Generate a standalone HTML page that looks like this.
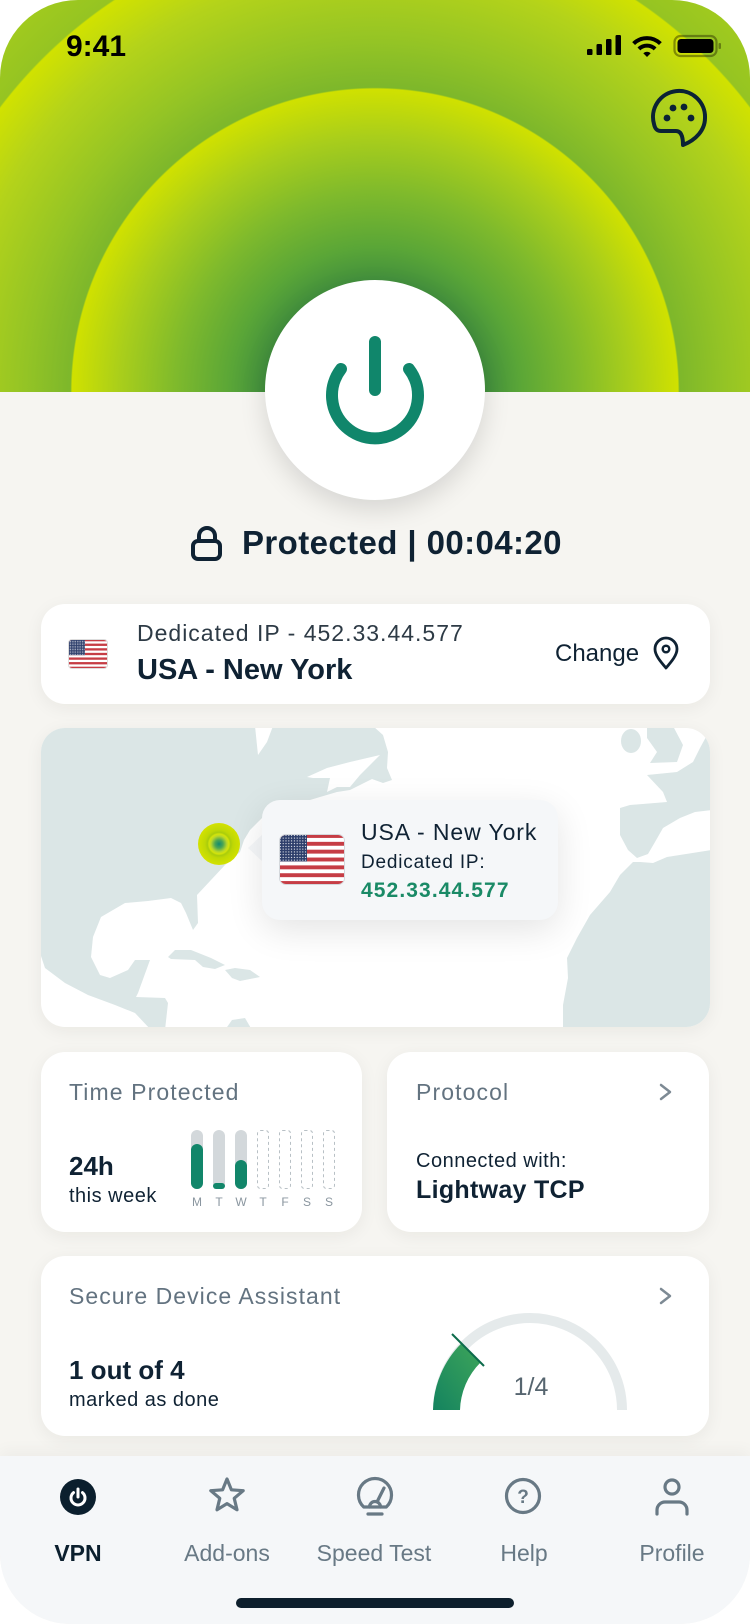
<!DOCTYPE html>
<html><head><meta charset="utf-8">
<style>
*{margin:0;padding:0;box-sizing:border-box}
html,body{width:750px;height:1624px;background:#fff;overflow:hidden}
#scr{position:absolute;left:0;top:0;width:750px;height:1624px;border-radius:78px 78px 70px 70px;overflow:hidden;background:#f6f5f1;font-family:"Liberation Sans",sans-serif;color:#0e2131}
.t{position:absolute;white-space:nowrap;line-height:1}
.card{position:absolute;background:#fff;border-radius:24px;box-shadow:0 4px 18px rgba(40,40,20,0.06)}
svg{position:absolute;overflow:visible}
.g{color:#637380}
.c{text-align:center;width:160px}
.d{position:absolute;width:20px;text-align:center;font-size:12px;line-height:1;color:#8a969f;top:1196px}
</style></head><body><div id="scr">

<div style="position:absolute;left:0;top:0;width:750px;height:392px;background:radial-gradient(circle at 375px 392px,#3d8c3f 0px,#43903d 112px,#5aa637 145px,#7fba2c 200px,#a9ce1b 255px,#d0e100 303px,#7db72b 304.5px,#94c425 350px,#b4d31a 420px,#d1e200 470px,#95c422 471.5px,#aacf1b 545px)"></div>

<!-- power circle -->
<div style="position:absolute;left:265px;top:280px;width:220px;height:220px;border-radius:50%;background:#fff;box-shadow:0 10px 26px rgba(0,0,0,0.13)"></div>

<!-- location card -->
<div class="card" style="left:41px;top:604px;width:669px;height:100px"></div>
<div style="position:absolute;left:68px;top:639px;width:40px;height:30px;border-radius:4px;overflow:hidden;border:1px solid #ddd">
<svg width="40" height="30" viewBox="0 0 66 50" preserveAspectRatio="none" style="left:-1px;top:-1px"><defs><pattern id="st1" width="2.8" height="2.7" patternUnits="userSpaceOnUse"><circle cx="1.4" cy="1.35" r="0.7" fill="#fff"/></pattern></defs><rect width="66" height="50" fill="#fff"/><g fill="#c63d45"><rect y="0" width="66" height="3.85"/><rect y="7.69" width="66" height="3.85"/><rect y="15.38" width="66" height="3.85"/><rect y="23.08" width="66" height="3.85"/><rect y="30.77" width="66" height="3.85"/><rect y="38.46" width="66" height="3.85"/><rect y="46.15" width="66" height="3.85"/></g><rect width="28" height="26.9" fill="#2d3e6b"/><rect width="28" height="26.9" fill="url(#st1)"/></svg></div>

<!-- map card -->
<div class="card" style="left:41px;top:728px;width:669px;height:299px;overflow:hidden">
<svg width="669" height="299" viewBox="41 728 669 299" style="left:0;top:0">
<g fill="#dbe6e6">
<polygon points="38,726 255,726 258,755 267,742 273,726 373,726 383,735 388,752 387,768 392,780 383,783 372,779 360,785 350,790 337,792 320,797 300,803 280,808 262,818 250,830 244,840 240,852 225,865 211,880 197,895 198,923 193,930 186,913 181,903 171,898 148,901 125,903 101,917 93,937 91,957 100,975 110,978 128,970 135,960 150,960 138,993 136,997 165,998 168,1003 165,1030 151,1030 135,1013 115,1005 88,995 65,983 45,968 38,947"/>
<polygon points="168,957 175,950 191,950 211,958 225,965 215,969 203,967 195,960 171,959"/>
<polygon points="225,970 235,968 250,970 260,977 250,979 240,981 232,978"/>
<polygon points="225,1030 232,1020 245,1018 252,1030"/>
<ellipse cx="631" cy="741" rx="10" ry="12"/>
<polygon points="647,726 673,726 683,745 677,762 650,763 657,752 647,738"/>
<polygon points="712,726 700,748 693,762 677,772 647,775 663,792 667,802 630,805 620,808 620,835 628,850 637,858 648,854 655,842 663,828 680,818 695,812 712,810"/>
<polygon points="712,850 667,857 653,863 640,862 633,862 620,875 610,892 590,915 577,938 567,958 568,978 563,1005 563,1030 712,1030"/>
</g>
<polygon points="307,777 327,768 350,762 380,755 360,775 350,787 337,787 327,792 330,778 313,778" fill="#fff"/>
</svg>
<div style="position:absolute;left:157px;top:95px;width:42px;height:42px;border-radius:50%;background:radial-gradient(circle,#128a70 0px,#4aa555 4px,#b9d72a 8px,#d4e40a 10px,#a9cc0c 11.5px,#bfd806 14px,#d3e200 21px)"></div>
</div>

<!-- popup -->
<svg width="20" height="30" style="left:246px;top:832px"><polygon points="2,16 17,2 17,30" fill="#f5f7f9"/></svg>
<div style="position:absolute;left:262px;top:800px;width:296px;height:120px;border-radius:18px;background:#f5f7f9;box-shadow:0 10px 36px rgba(0,0,0,0.11)"></div>
<div style="position:absolute;left:279px;top:834px;width:66px;height:51px;border-radius:7px;overflow:hidden;border:1.5px solid #d4d8dc">
<svg width="66" height="51" viewBox="0 0 66 50" preserveAspectRatio="none" style="left:-1.5px;top:-1.5px"><defs><pattern id="st2" width="2.8" height="2.7" patternUnits="userSpaceOnUse"><circle cx="1.4" cy="1.35" r="0.6" fill="#fff"/></pattern></defs><rect width="66" height="50" fill="#fff"/><g fill="#c63d45"><rect y="0" width="66" height="3.85"/><rect y="7.69" width="66" height="3.85"/><rect y="15.38" width="66" height="3.85"/><rect y="23.08" width="66" height="3.85"/><rect y="30.77" width="66" height="3.85"/><rect y="38.46" width="66" height="3.85"/><rect y="46.15" width="66" height="3.85"/></g><rect width="28" height="26.9" fill="#2d3e6b"/><rect width="28" height="26.9" fill="url(#st2)"/></svg></div>

<!-- stat cards -->
<div class="card" style="left:41px;top:1052px;width:321px;height:180px"></div>
<div class="card" style="left:387px;top:1052px;width:322px;height:180px"></div>
<div class="card" style="left:41px;top:1256px;width:668px;height:180px"></div>

<!-- nav -->
<div style="position:absolute;left:0;top:1456px;width:750px;height:168px;background:#f5f7f9;box-shadow:0 -6px 14px rgba(0,0,0,0.035)"></div>
<div style="position:absolute;left:236px;top:1598px;width:278px;height:10px;border-radius:5px;background:#0d1f2d"></div>

<!-- icon overlay -->
<svg width="750" height="1624" viewBox="0 0 750 1624" style="left:0;top:0">
<defs><linearGradient id="gg" x1="0" y1="1" x2="1" y2="0"><stop offset="0" stop-color="#14835f"/><stop offset="1" stop-color="#3ea55a"/></linearGradient></defs>
<!-- status bar -->
<g fill="#000"><rect x="587" y="49" width="5.5" height="6" rx="1.3"/><rect x="596.5" y="44" width="5.5" height="11" rx="1.3"/><rect x="606" y="39" width="5.5" height="16" rx="1.3"/><rect x="615.5" y="35" width="5.5" height="20" rx="1.3"/></g>
<g fill="none" stroke="#000" stroke-width="4"><path d="M633.6 43.6 A19 19 0 0 1 660.4 43.6"/><path d="M638.9 48.9 A11.5 11.5 0 0 1 655.1 48.9"/></g>
<path d="M647 57 L643.3 53.3 A5.2 5.2 0 0 1 650.7 53.3 Z" fill="#000"/>
<rect x="674.5" y="36" width="42" height="20" rx="6" fill="none" stroke="rgba(40,40,0,0.45)" stroke-width="2.2"/>
<rect x="677.5" y="39" width="36" height="14" rx="3.5" fill="#000"/>
<rect x="718.5" y="43" width="2.5" height="6" rx="1" fill="rgba(40,40,0,0.45)"/>
<!-- palette -->
<path d="M676 131 C681 131 683 136 683 145 C696 140 705 130 705 118 A26 26 0 1 0 654 124 C655 129 657 131 661 131 Z" fill="none" stroke="#0b2235" stroke-width="4" stroke-linejoin="round"/>
<g fill="#0b2235"><circle cx="667" cy="118" r="3.4"/><circle cx="673" cy="108" r="3.4"/><circle cx="684" cy="107" r="3.4"/><circle cx="691" cy="118" r="3.4"/></g>
<!-- power glyph -->
<g fill="none" stroke="#10866b" stroke-width="12" stroke-linecap="round"><line x1="375" y1="342" x2="375" y2="390"/><path d="M341 369 A43 43 0 1 0 409 369"/></g>
<!-- lock -->
<g fill="none" stroke="#0f2233" stroke-width="4"><rect x="193" y="541" width="27" height="18" rx="5"/><path d="M199 541 V536 A8 8 0 0 1 215 536 V541"/></g>
<!-- pin -->
<path d="M666 668 C660 661 655 655 655 649 A11 11 0 0 1 677 649 C677 655 672 661 666 668 Z" fill="none" stroke="#0f2233" stroke-width="2.8" stroke-linejoin="round"/>
<circle cx="666" cy="649" r="3.3" fill="none" stroke="#0f2233" stroke-width="2.5"/>
<!-- bars -->
<g fill="#d3d8db"><rect x="191" y="1130" width="12" height="59" rx="6"/><rect x="213" y="1130" width="12" height="59" rx="6"/><rect x="235" y="1130" width="12" height="59" rx="6"/></g>
<g fill="#12866a"><rect x="191" y="1144" width="12" height="45" rx="6"/><rect x="213" y="1183" width="12" height="6" rx="3"/><rect x="235" y="1160" width="12" height="29" rx="6"/></g>
<g fill="none" stroke="#b8c0c5" stroke-width="1" stroke-dasharray="3 3"><rect x="257.5" y="1130.5" width="11" height="58" rx="3"/><rect x="279.5" y="1130.5" width="11" height="58" rx="3"/><rect x="301.5" y="1130.5" width="11" height="58" rx="3"/><rect x="323.5" y="1130.5" width="11" height="58" rx="3"/></g>
<!-- chevrons -->
<g fill="none" stroke="#7d8a94" stroke-width="2.5" stroke-linecap="round" stroke-linejoin="round"><polyline points="661,1085 670,1092 661,1099"/><polyline points="661,1289 670,1296 661,1303"/></g>
<!-- gauge -->
<path d="M438 1410 A92 92 0 0 1 622 1410" fill="none" stroke="#e5eaeb" stroke-width="10"/>
<path d="M433 1410 A97 97 0 0 1 461.4 1343.4 L480.5 1362.5 A70 70 0 0 0 460 1410 Z" fill="url(#gg)"/>
<line x1="452" y1="1334" x2="484" y2="1366" stroke="#0d6b4c" stroke-width="2"/>
<!-- nav icons -->
<circle cx="78" cy="1497" r="18" fill="#0b1f2e"/>
<g fill="none" stroke="#fff" stroke-width="3" stroke-linecap="round"><line x1="78" y1="1489" x2="78" y2="1497"/><path d="M73.5 1492.6 A7 7 0 1 0 82.5 1492.6"/></g>
<g fill="none" stroke="#687985" stroke-width="3.2" stroke-linejoin="round" stroke-linecap="round">
<polygon points="227,1479 231.4,1489.8 243.2,1490.7 234.2,1498.3 237,1509.8 227,1503.6 217,1509.8 219.8,1498.3 210.8,1490.7 222.6,1489.8"/>
<path d="M363.7 1507 A16.5 16.5 0 1 1 386.3 1507 Z"/>
<path d="M369.5 1507 A5.5 5.5 0 0 1 380.5 1507"/>
<line x1="377" y1="1502" x2="384" y2="1488"/>
<line x1="368" y1="1514" x2="382" y2="1514"/>
<circle cx="523" cy="1496" r="16.5"/>
<circle cx="672" cy="1487" r="7"/>
<path d="M657 1514 V1510 A8 8 0 0 1 665 1502 H679 A8 8 0 0 1 687 1510 V1514"/>
</g>
<text x="523" y="1503" text-anchor="middle" font-family="Liberation Sans, sans-serif" font-weight="bold" font-size="19" fill="#687985">?</text>
</svg>

<!-- texts -->
<div class="t" style="left:66px;top:31.6px;font-size:30px;font-weight:bold;color:#000">9:41</div>
<div class="t" style="left:242px;top:526px;font-size:33px;font-weight:bold;color:#0f2233;letter-spacing:0.4px">Protected | 00:04:20</div>
<div class="t" style="left:137px;top:621.5px;font-size:23px;color:#2d3a45;letter-spacing:1px">Dedicated IP - 452.33.44.577</div>
<div class="t" style="left:137px;top:655.5px;font-size:29px;font-weight:bold;color:#0f2233">USA - New York</div>
<div class="t" style="left:555px;top:641.7px;font-size:24px;color:#0f2233">Change</div>

<div class="t" style="left:361px;top:820.5px;font-size:23px;color:#0f2233;letter-spacing:0.9px">USA - New York</div>
<div class="t" style="left:361px;top:852.9px;font-size:19px;color:#0f2233;letter-spacing:0.8px">Dedicated IP:</div>
<div class="t" style="left:361px;top:880.2px;font-size:21px;font-weight:bold;color:#1a8a66;letter-spacing:1.1px">452.33.44.577</div>

<div class="t g" style="left:69px;top:1080.5px;font-size:23px;letter-spacing:1.1px">Time Protected</div>
<div class="t" style="left:69px;top:1153px;font-size:26px;font-weight:bold;color:#0f2233">24h</div>
<div class="t" style="left:69px;top:1186.1px;font-size:20px;color:#0f2233;letter-spacing:0.5px">this week</div>
<div class="d" style="left:187px">M</div><div class="d" style="left:209px">T</div><div class="d" style="left:231px">W</div><div class="d" style="left:253px">T</div><div class="d" style="left:275px">F</div><div class="d" style="left:297px">S</div><div class="d" style="left:319px">S</div>

<div class="t g" style="left:416px;top:1080.5px;font-size:23px;letter-spacing:1.1px">Protocol</div>
<div class="t" style="left:416px;top:1151.1px;font-size:20px;color:#0f2233;letter-spacing:0.5px">Connected with:</div>
<div class="t" style="left:416px;top:1177.8px;font-size:25px;font-weight:bold;color:#0f2233;letter-spacing:0.3px">Lightway TCP</div>

<div class="t g" style="left:69px;top:1284.5px;font-size:23px;letter-spacing:1.05px">Secure Device Assistant</div>
<div class="t" style="left:69px;top:1357px;font-size:26px;font-weight:bold;color:#0f2233">1 out of 4</div>
<div class="t" style="left:69px;top:1390.1px;font-size:20px;color:#0f2233;letter-spacing:0.5px">marked as done</div>
<div class="t c" style="left:451px;top:1374.8px;font-size:25px;color:#56656f">1/4</div>

<div class="t c" style="left:-2px;top:1541.5px;font-size:23px;font-weight:bold;color:#0b1f2e">VPN</div>
<div class="t c" style="left:147px;top:1541.5px;font-size:23px;color:#687985">Add-ons</div>
<div class="t c" style="left:294px;top:1541.5px;font-size:23px;color:#687985">Speed Test</div>
<div class="t c" style="left:444px;top:1541.5px;font-size:23px;color:#687985">Help</div>
<div class="t c" style="left:592px;top:1541.5px;font-size:23px;color:#687985">Profile</div>

</div></body></html>
